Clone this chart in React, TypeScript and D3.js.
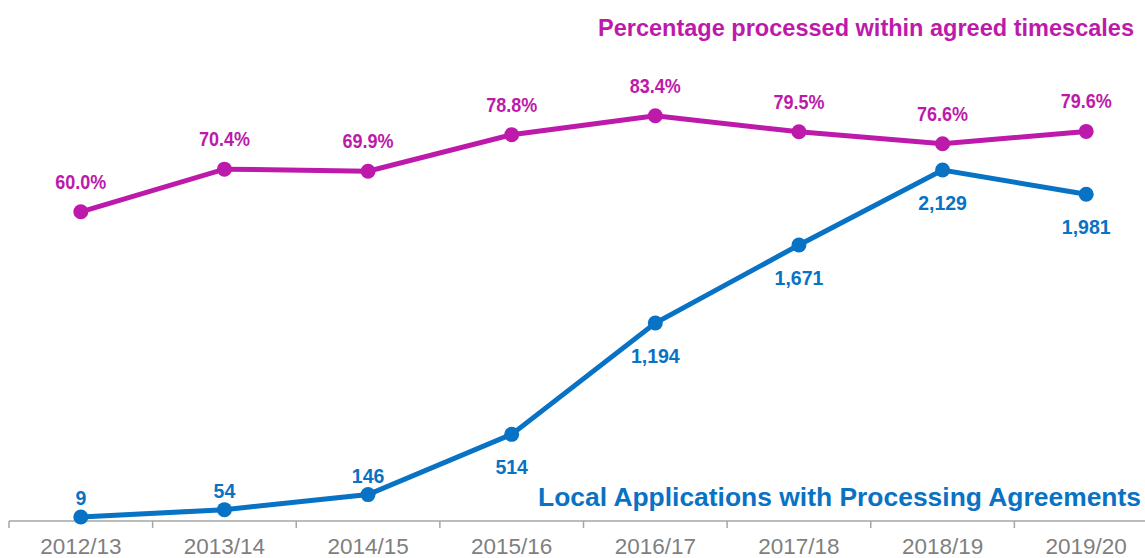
import * as d3 from 'd3'

const YEARS = ['2012/13', '2013/14', '2014/15', '2015/16', '2016/17', '2017/18', '2018/19', '2019/20']
const PCT = [60.0, 70.4, 69.9, 78.8, 83.4, 79.5, 76.6, 79.6]
const APPS = [9, 54, 146, 514, 1194, 1671, 2129, 1981]
// which count labels sit above their point
const APPS_ABOVE = [true, true, true, false, false, false, false, false]

const MAGENTA = '#BD1AAB'
const BLUE = '#0872C4'
const GREY = '#7F7F7F'

const W = 1145
const H = 558
const FONT = '"Liberation Sans", Arial, sans-serif'

export default function App() {
  const x = d3.scaleBand<string>().domain(YEARS).range([9, 1158])
  const cx = (d: string) => (x(d) || 0) + x.bandwidth() / 2
  const yPct = d3.scaleLinear().domain([0, 100]).range([458, 47.7])
  const yApps = d3.scaleLinear().domain([0, 2500]).range([518.5, 109.3])
  const axisY = 521

  const pctLine = d3.line<number>().x((d, i) => cx(YEARS[i])).y(d => yPct(d))
  const appsLine = d3.line<number>().x((d, i) => cx(YEARS[i])).y(d => yApps(d))
  const fmt = d3.format(',')

  return (
    <svg width={W} height={H} style={{ position: 'absolute', left: 0, top: 0 }} fontFamily={FONT}>
      {/* x axis */}
      <line x1={9} x2={W} y1={axisY} y2={axisY} stroke="#A6A6A6" strokeWidth={1.5} />
      {YEARS.map(d => (
        <line key={d} x1={x(d)} x2={x(d)} y1={axisY} y2={axisY + 7} stroke="#A6A6A6" strokeWidth={1.5} />
      ))}
      {YEARS.map(d => (
        <text key={d} x={cx(d)} y={554} textAnchor="middle" fontSize={22.5} fill={GREY}>{d}</text>
      ))}

      {/* percentage series */}
      <path d={pctLine(PCT) || ''} fill="none" stroke={MAGENTA} strokeWidth={5} />
      {PCT.map((v, i) => (
        <g key={i}>
          <circle cx={cx(YEARS[i])} cy={yPct(v)} r={7.5} fill={MAGENTA} />
          <text
            transform={`translate(${cx(YEARS[i])},${yPct(v) - 23}) scale(0.9,1)`}
            textAnchor="middle" fontSize={20} fontWeight="bold" fill={MAGENTA}
          >
            {v.toFixed(1)}%
          </text>
        </g>
      ))}

      {/* applications series */}
      <path d={appsLine(APPS) || ''} fill="none" stroke={BLUE} strokeWidth={5} />
      {APPS.map((v, i) => (
        <g key={i}>
          <circle cx={cx(YEARS[i])} cy={yApps(v)} r={7.5} fill={BLUE} />
          <text
            x={cx(YEARS[i])} y={APPS_ABOVE[i] ? yApps(v) - 12 : yApps(v) + 40}
            textAnchor="middle" fontSize={19.5} fontWeight="bold" fill={BLUE}
          >
            {fmt(v)}
          </text>
        </g>
      ))}

      {/* series titles */}
      <text x={1134} y={36} textAnchor="end" fontSize={24} fontWeight="bold" fill={MAGENTA} textLength={536} lengthAdjust="spacingAndGlyphs">
        Percentage processed within agreed timescales
      </text>
      <text x={1141} y={506} textAnchor="end" fontSize={25} fontWeight="bold" fill={BLUE} textLength={603} lengthAdjust="spacingAndGlyphs">
        Local Applications with Processing Agreements
      </text>
    </svg>
  )
}
